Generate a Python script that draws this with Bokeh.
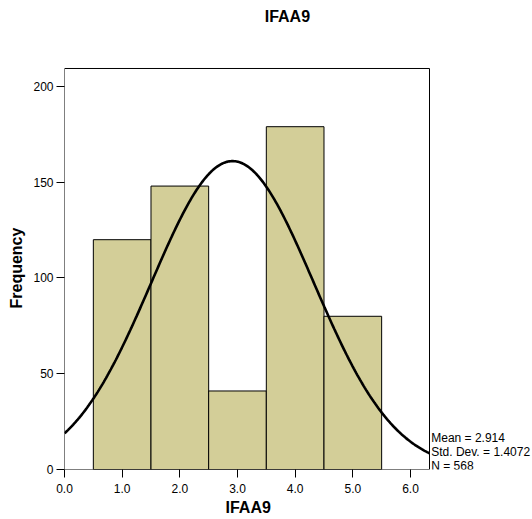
import numpy as np
from bokeh.plotting import figure
from bokeh.models import (Range1d, FixedTicker, NumeralTickFormatter, Label, Title,
                          BoxAnnotation)
from bokeh.embed import file_html
from bokeh.resources import INLINE

# data
bin_centers = [1.0, 2.0, 3.0, 4.0, 5.0]
counts = [120, 148, 41, 179, 80]
bin_width = 1.0
mean_val = 2.914
std_val = 1.4072
n_val = 568
x_ticks = [0.0, 1.0, 2.0, 3.0, 4.0, 5.0, 6.0]
y_ticks = [0, 50, 100, 150, 200]
title_text = "IFAA9"
x_label = "IFAA9"
y_label = "Frequency"

FONT = "Liberation Sans"

# layout: the frame reaches the top and right edges so that the title and the
# statistics text can sit inside it; the chart box is drawn as an annotation
BOX_X_END = 6.33
BOX_Y_END = 209.4
X_END = 8.116
Y_END = 244.9

p = figure(width=532, height=519, output_backend="svg", toolbar_location=None,
           x_range=Range1d(0, X_END), y_range=Range1d(0, Y_END),
           min_border_left=64, min_border_right=0, min_border_top=0, min_border_bottom=50)
p.background_fill_color = "white"
p.border_fill_color = "white"
p.outline_line_color = None
p.xgrid.visible = False
p.ygrid.visible = False

p.vbar(x=bin_centers, top=counts, width=bin_width, bottom=0,
       fill_color="#D3CE98", line_color="black", line_width=1)

xs = np.linspace(0, BOX_X_END, 300)
ys = n_val * bin_width / (std_val * np.sqrt(2 * np.pi)) * np.exp(-0.5 * ((xs - mean_val) / std_val) ** 2)
p.line(xs, ys, line_color="black", line_width=2.6)

p.add_layout(BoxAnnotation(left=0, right=BOX_X_END, bottom=0, top=BOX_Y_END,
                           fill_alpha=0, line_color="black", line_width=1, line_alpha=1))

for ax in (p.xaxis, p.yaxis):
    ax.axis_line_color = None
    ax.major_tick_line_color = "black"
    ax.major_tick_out = 8
    ax.major_tick_in = 0
    ax.minor_tick_line_color = None
    ax.major_label_text_font = FONT
    ax.major_label_text_font_size = "12px"
    ax.major_label_text_color = "black"

p.xaxis.ticker = FixedTicker(ticks=x_ticks)
p.xaxis.formatter = NumeralTickFormatter(format="0.0")
p.xaxis.major_label_standoff = 6
p.yaxis.ticker = FixedTicker(ticks=y_ticks)
p.yaxis.major_label_standoff = 3

# axis titles (offset from the frame edge so they centre on the chart box)
p.add_layout(Title(text=y_label, align="left", offset=161, standoff=11, text_font=FONT,
                   text_font_size="16px", text_font_style="bold", text_color="black"), "left")
p.add_layout(Title(text=x_label, align="left", offset=161, standoff=3, text_font=FONT,
                   text_font_size="16px", text_font_style="bold", text_color="black"), "below")

# chart title
p.add_layout(Label(x=3.865, y=236.5, text=title_text, text_font=FONT, text_font_size="16px",
                   text_font_style="bold", text_align="center", text_baseline="middle",
                   text_color="black"))

stats = ["Mean = %.3f" % mean_val, "Std. Dev. = %.4f" % std_val, "N = %d" % n_val]
stat_y = [16.2, 8.9, 1.6]
for s, yy in zip(stats, stat_y):
    p.add_layout(Label(x=6.36, y=yy, text=s, text_font=FONT, text_font_size="12px",
                       text_align="left", text_baseline="middle", text_color="black"))

open("out.html", "w").write(file_html(p, INLINE))
